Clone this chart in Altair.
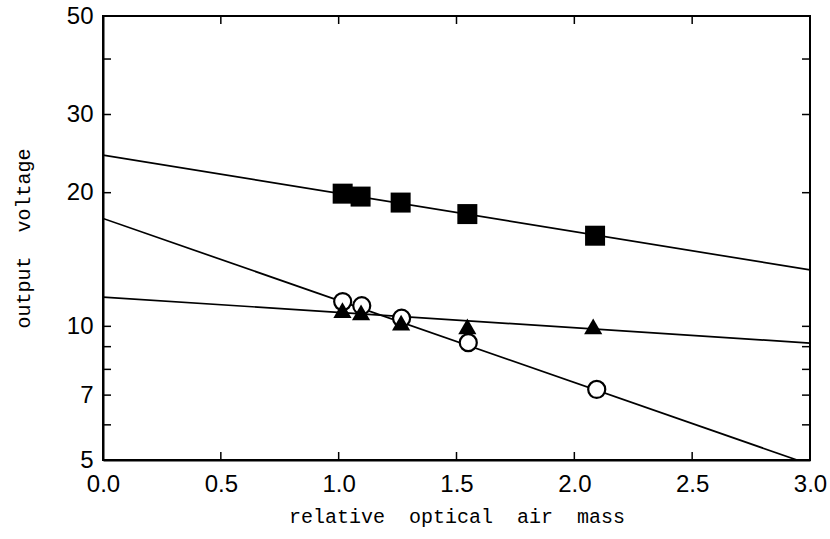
import altair as alt
import pandas as pd

# ---- data ----
am_square = [1.017, 1.093, 1.263, 1.546, 2.088]
v_square = [19.9, 19.6, 19.0, 17.9, 16.0]

am_circle = [1.017, 1.098, 1.267, 1.550, 2.095]
v_circle = [11.37, 11.13, 10.43, 9.19, 7.21]

am_triangle = [1.016, 1.095, 1.265, 1.546, 2.080]
v_triangle = [10.88, 10.75, 10.19, 10.0, 10.0]

# fitted lines (end points)
line_sq_x = [0.0, 3.0]
line_sq_v = [24.3, 13.4]
line_ci_x = [0.0, 2.945]
line_ci_v = [17.5, 5.0]
line_tr_x = [0.0, 3.0]
line_tr_v = [11.64, 9.17]

x_ticks = [0.0, 0.5, 1.0, 1.5, 2.0, 2.5, 3.0]
y_labels = [5, 7, 10, 20, 30, 50]
y_minor = [6, 7, 8, 9, 10, 20, 30, 40]
x_inner = [0.5, 1.0, 1.5, 2.0, 2.5]

W, H = 707, 444

xs = alt.Scale(domain=[0, 3], nice=False, zero=False)
ys = alt.Scale(type="log", domain=[5, 50], nice=False)

NB = "\u00a0\u00a0"
x_axis = alt.Axis(values=x_ticks, format=".1f", labelPadding=12, labelFlush=False,
                  title="relative" + NB + "optical" + NB + "air" + NB + "mass",
                  titlePadding=10)
y_axis = alt.Axis(values=y_labels, format="d", labelPadding=10, labelFlush=False,
                  title="output" + NB + "voltage", titlePadding=33)

def line_layer(xv, vv):
    df = pd.DataFrame({"am": xv, "v": vv})
    return alt.Chart(df).mark_line(color="black", strokeWidth=1.7, clip=True).encode(
        x=alt.X("am:Q", scale=xs, axis=x_axis),
        y=alt.Y("v:Q", scale=ys, axis=y_axis),
    )

lines = [line_layer(line_sq_x, line_sq_v),
         line_layer(line_ci_x, line_ci_v),
         line_layer(line_tr_x, line_tr_v)]

sq = alt.Chart(pd.DataFrame({"am": am_square, "v": v_square})).mark_point(
    shape="square", filled=True, color="black", size=400, opacity=1).encode(
    x=alt.X("am:Q", scale=xs, axis=x_axis), y=alt.Y("v:Q", scale=ys, axis=y_axis))

ci = alt.Chart(pd.DataFrame({"am": am_circle, "v": v_circle})).mark_point(
    shape="circle", filled=True, fill="white", stroke="black", strokeWidth=2.2,
    size=290, opacity=1).encode(
    x=alt.X("am:Q", scale=xs, axis=x_axis), y=alt.Y("v:Q", scale=ys, axis=y_axis))

tr = alt.Chart(pd.DataFrame({"am": am_triangle, "v": v_triangle})).mark_point(
    shape="triangle-up", filled=True, color="black", size=330, opacity=1).encode(
    x=alt.X("am:Q", scale=xs, axis=x_axis), y=alt.Y("v:Q", scale=ys, axis=y_axis))

# inward ticks on all four sides
ydf = pd.DataFrame({"v": y_minor})
left_ticks = alt.Chart(ydf).mark_rule(color="black", strokeWidth=1.5).encode(
    y=alt.Y("v:Q", scale=ys, axis=y_axis), x=alt.value(0), x2=alt.value(8))
right_ticks = alt.Chart(ydf).mark_rule(color="black", strokeWidth=1.5).encode(
    y=alt.Y("v:Q", scale=ys, axis=y_axis), x=alt.value(W), x2=alt.value(W - 8))
xdf = pd.DataFrame({"am": x_inner})
bottom_ticks = alt.Chart(xdf).mark_rule(color="black", strokeWidth=1.5).encode(
    x=alt.X("am:Q", scale=xs, axis=x_axis), y=alt.value(H), y2=alt.value(H - 8))
top_ticks = alt.Chart(xdf).mark_rule(color="black", strokeWidth=1.5).encode(
    x=alt.X("am:Q", scale=xs, axis=x_axis), y=alt.value(0), y2=alt.value(8))

chart = alt.layer(*lines, ci, tr, sq, left_ticks, right_ticks, bottom_ticks, top_ticks).properties(
    width=W, height=H,
    autosize=alt.AutoSizeParams(type="none"),
    padding={"left": 103, "top": 16, "right": 20, "bottom": 79},
    background="white",
).configure_view(stroke="black", strokeWidth=2).configure_axis(
    ticks=False, grid=False,
    labelFont="Liberation Sans", labelFontSize=24, labelColor="black",
    domainColor="black", domainWidth=2,
    titleFont="Liberation Mono", titleFontSize=20, titleFontWeight="normal",
    titleColor="black",
)

chart.save("out.html", embed_options={"renderer": "svg", "actions": False})
